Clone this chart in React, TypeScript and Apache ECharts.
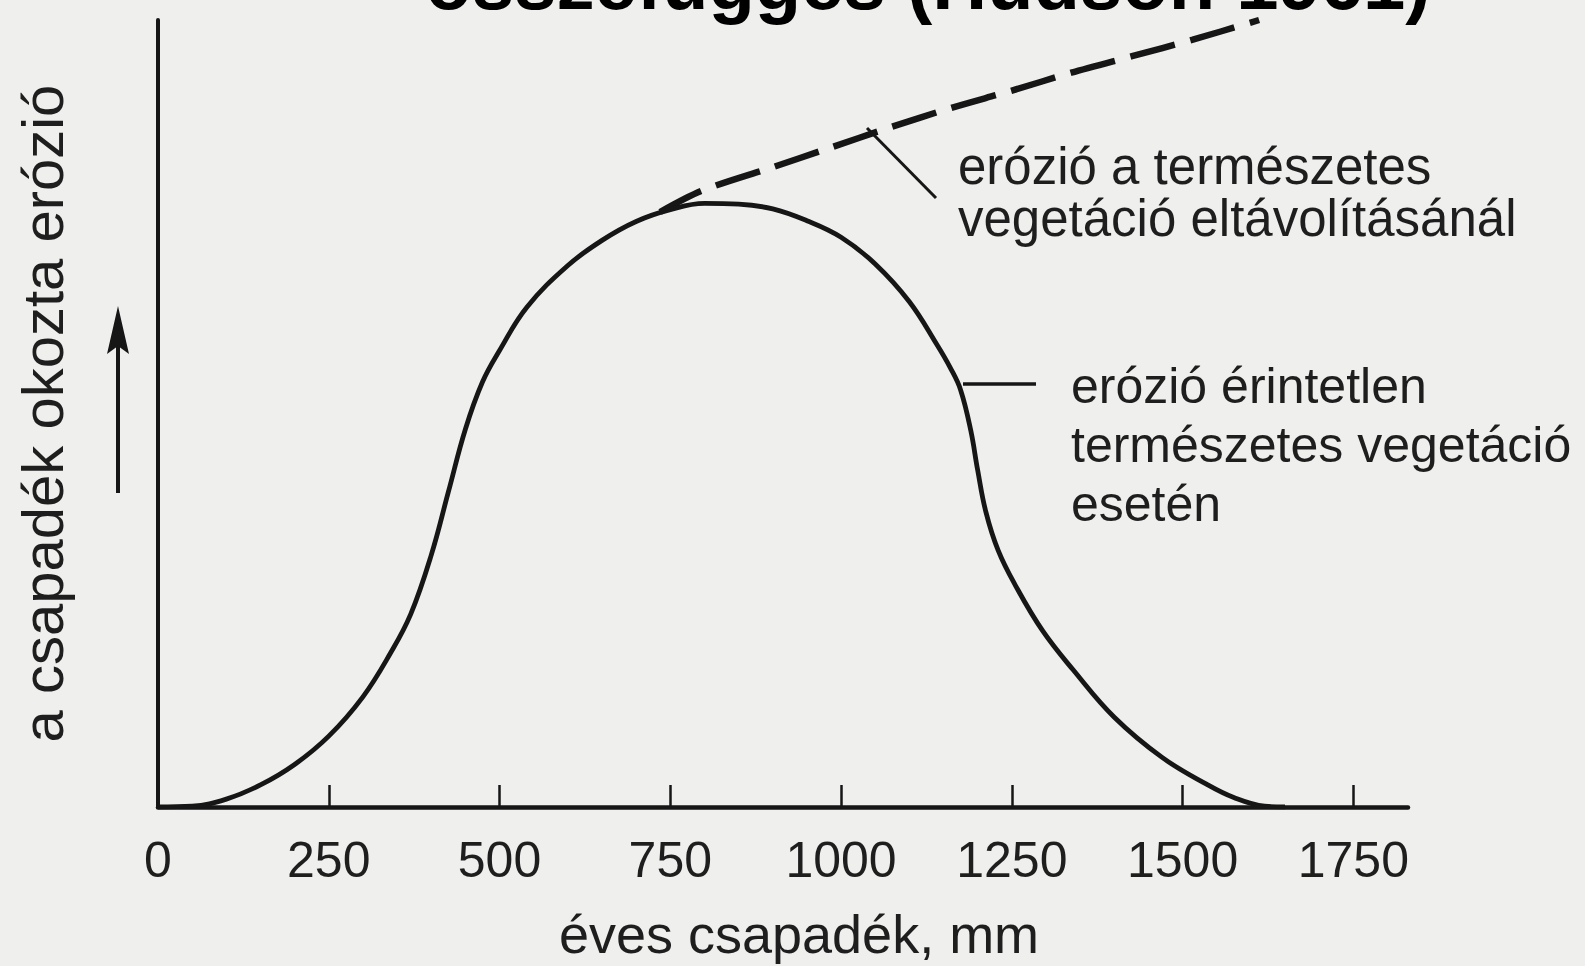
import React, { useEffect, useRef } from "react";
import * as echarts from "echarts";

// ---- data ----
const titleText = "összefüggés (Hudson 1961)";
const xAxisName = "éves csapadék, mm";
const yAxisName = "a csapadék okozta erózió";
const xTickValues = [0, 250, 500, 750, 1000, 1250, 1500, 1750];

// erosion under undisturbed natural vegetation (solid curve)
const rainfallNatural = [0, 50, 100, 150, 200, 250, 300, 340, 370, 400, 425, 450, 475, 500, 540, 600, 650, 700, 750, 800, 850, 900, 950, 1000, 1050, 1100, 1140, 1160, 1175, 1190, 1200, 1212, 1230, 1255, 1295, 1340, 1400, 1470, 1535, 1575, 1620, 1650];
const erosionNatural = [0, 0.1, 1.0, 2.8, 5.4, 9.0, 14.0, 19.5, 24.5, 32.0, 40.0, 48.0, 54.0, 58.0, 63.5, 68.8, 72.0, 74.4, 75.9, 76.7, 76.6, 76.0, 74.5, 72.4, 69.0, 64.2, 58.8, 55.8, 53.0, 47.8, 42.8, 37.5, 32.6, 28.2, 22.4, 17.4, 11.4, 6.3, 2.9, 1.2, 0.1, 0];

// erosion when natural vegetation is removed (dashed line)
const rainfallCleared = [735, 796, 900, 982, 1070, 1160, 1249, 1337, 1426, 1515, 1612];
const erosionCleared = [75.6, 78.3, 81.3, 83.7, 86.3, 88.8, 91.0, 93.3, 95.4, 97.5, 100];

const clearedLabel = ["erózió a természetes", "vegetáció eltávolításánál"];
const naturalLabel = ["erózió érintetlen", "természetes vegetáció", "esetén"];

const INK = "#161616";
const TEXT = "#1e1e1e";
const FONT = "'Liberation Sans', Arial, sans-serif";

export default function App() {
  const ref = useRef<HTMLDivElement>(null);

  useEffect(() => {
    if (!ref.current) return;
    const chart = echarts.init(ref.current, null, { renderer: "svg" });

    const natural = rainfallNatural.map((x, i) => [x, erosionNatural[i]]);
    const cleared = rainfallCleared.map((x, i) => [x, erosionCleared[i]]);

    chart.setOption({
      animation: false,
      backgroundColor: "#efefed",
      grid: { left: 158, right: 177, top: 20, bottom: 159, outerBoundsMode: "none", containLabel: false },
      xAxis: {
        type: "value",
        min: 0,
        max: 1830,
        interval: 250,
        name: xAxisName,
        nameLocation: "middle",
        nameGap: 100,
        nameTextStyle: { fontFamily: FONT, fontSize: 54, color: TEXT, padding: [0, 0, 0, 32] },
        axisLine: { show: true, lineStyle: { color: INK, width: 4.5 } },
        axisTick: {
          show: true,
          inside: true,
          length: 22,
          customValues: xTickValues.slice(1),
          lineStyle: { color: INK, width: 2.5 },
        },
        axisLabel: {
          show: true,
          customValues: xTickValues,
          margin: 28,
          fontFamily: FONT,
          fontSize: 50,
          color: TEXT,
          formatter: (v: number) => (v % 250 === 0 ? String(v) : ""),
        },
        splitLine: { show: false },
      },
      yAxis: {
        type: "value",
        min: 0,
        max: 100,
        name: yAxisName,
        nameLocation: "middle",
        nameGap: 87,
        nameTextStyle: { fontFamily: FONT, fontSize: 58, color: TEXT },
        axisLine: { show: true, lineStyle: { color: INK, width: 4 } },
        axisTick: { show: false },
        axisLabel: { show: false },
        splitLine: { show: false },
      },
      series: [
        {
          name: "erózió érintetlen természetes vegetáció esetén",
          type: "line",
          data: natural,
          smooth: 0.4,
          showSymbol: false,
          lineStyle: { color: INK, width: 4.8 },
          z: 3,
        },
        {
          name: "erózió a természetes vegetáció eltávolításánál",
          type: "line",
          data: cleared,
          smooth: 0.3,
          showSymbol: false,
          lineStyle: { color: INK, width: 6.5, type: [46, 16] },
          z: 2,
        },
      ],
      graphic: [
        {
          type: "text",
          x: 928,
          y: -18,
          style: {
            text: titleText,
            fontFamily: FONT,
            fontSize: 76,
            fontWeight: "bold",
            fill: "#000",
            align: "center",
            verticalAlign: "middle",
          },
        },
        // arrow next to the y-axis name
        {
          type: "line",
          shape: { x1: 118, y1: 493, x2: 118, y2: 340 },
          style: { stroke: INK, lineWidth: 4 },
        },
        {
          type: "polygon",
          shape: { points: [[118, 306], [107, 354], [118, 346], [129, 354]] },
          style: { fill: INK },
        },
        // leader lines
        {
          type: "line",
          shape: { x1: 867, y1: 128, x2: 936, y2: 198 },
          style: { stroke: INK, lineWidth: 3 },
        },
        {
          type: "line",
          shape: { x1: 963, y1: 384, x2: 1036, y2: 384 },
          style: { stroke: INK, lineWidth: 3.5 },
        },
        {
          type: "text",
          x: 958,
          y: 140,
          style: {
            text: clearedLabel.join("\n"),
            fontFamily: FONT,
            fontSize: 51,
            lineHeight: 52,
            fill: TEXT,
            align: "left",
            verticalAlign: "top",
          },
        },
        {
          type: "text",
          x: 1071,
          y: 356,
          style: {
            text: naturalLabel.join("\n"),
            fontFamily: FONT,
            fontSize: 50,
            lineHeight: 59,
            fill: TEXT,
            align: "left",
            verticalAlign: "top",
          },
        },
      ],
    });

    return () => chart.dispose();
  }, []);

  return (
    <div
      ref={ref}
      style={{ position: "fixed", left: 0, top: 0, width: 1585, height: 966 }}
    />
  );
}
